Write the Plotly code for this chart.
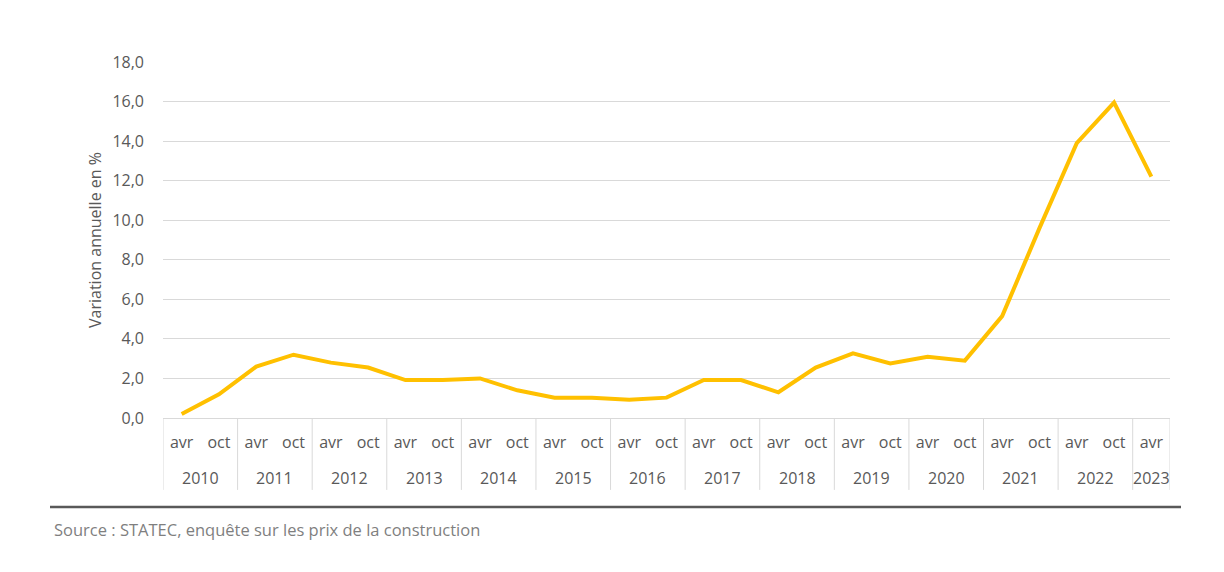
import plotly.graph_objects as go

years = ["2010", "2010", "2011", "2011", "2012", "2012", "2013", "2013", "2014", "2014",
         "2015", "2015", "2016", "2016", "2017", "2017", "2018", "2018", "2019", "2019",
         "2020", "2020", "2021", "2021", "2022", "2022", "2023"]
months = ["avr", "oct"] * 13 + ["avr"]
values = [0.2, 1.2, 2.6, 3.2, 2.8, 2.55, 1.92, 1.92, 2.0, 1.4,
          1.03, 1.03, 0.92, 1.03, 1.92, 1.92, 1.3, 2.55, 3.27, 2.76,
          3.1, 2.9, 5.15, 9.6, 13.9, 15.95, 12.2]
y_ticks = [0, 2, 4, 6, 8, 10, 12, 14, 16, 18]
y_ticktext = [f"{v:.1f}".replace(".", ",") for v in y_ticks]

TXT = "#595959"
GRID = "#D9D9D9"
FONT = "Open Sans"
FS = 16

idx = list(range(len(values)))

# group categories by year
year_order = []
for y in years:
    if y not in year_order:
        year_order.append(y)
year_idx = {y: [i for i, yy in enumerate(years) if yy == y] for y in year_order}

fig = go.Figure()
fig.add_trace(go.Scatter(
    x=idx, y=values, mode="lines",
    line=dict(color="#FFC000", width=4),
    hoverinfo="skip", showlegend=False,
))

Y_DIV_BOTTOM = -0.202
Y_YEAR = -0.1685

shapes = []
# year dividers (edges of each year group)
edges = [year_idx[y][0] - 0.5 for y in year_order] + [year_idx[year_order[-1]][-1] + 0.5]
for e in edges:
    shapes.append(dict(type="line", xref="x", yref="paper", x0=e, x1=e,
                       y0=0, y1=Y_DIV_BOTTOM, line=dict(color=GRID, width=1)))
# bottom rule
shapes.append(dict(type="line", xref="paper", yref="paper",
                   x0=(50 - 163) / 1007, x1=(1181 - 163) / 1007,
                   y0=-0.25, y1=-0.25,
                   line=dict(color="#595959", width=2.5)))

annotations = []
for y in year_order:
    pos = sum(year_idx[y]) / len(year_idx[y])
    annotations.append(dict(text=y, xref="x", yref="paper", x=pos, y=Y_YEAR,
                            xanchor="center", yanchor="middle", showarrow=False,
                            font=dict(family=FONT, size=FS, color=TXT)))
annotations.append(dict(text="Source : STATEC, enquête sur les prix de la construction",
                        xref="paper", yref="paper", x=(52 - 163) / 1007, y=-0.3146,
                        xanchor="left", yanchor="middle", showarrow=False,
                        font=dict(family=FONT, size=16.5, color="#7F7F7F")))

fig.update_layout(
    width=1224, height=572,
    margin=dict(l=155, r=62, t=54, b=162),
    paper_bgcolor="white", plot_bgcolor="white",
    font=dict(family=FONT, size=FS, color=TXT),
    xaxis=dict(
        range=[-0.5, len(values) - 0.5],
        tickvals=idx, ticktext=months,
        showgrid=False, zeroline=False,
        showline=True, linecolor=GRID, linewidth=1,
        ticks="", ticklabelstandoff=10,
        tickfont=dict(family=FONT, size=FS, color=TXT),
    ),
    yaxis=dict(
        range=[0, 18], tickvals=y_ticks, ticktext=y_ticktext,
        showgrid=True, gridcolor=GRID, gridwidth=1,
        zeroline=False, showline=False, ticks="",
        ticklabelstandoff=18,
        tickfont=dict(family=FONT, size=FS, color=TXT),
        title=dict(text="Variation annuelle en %", font=dict(family=FONT, size=FS, color=TXT), standoff=6),
    ),
    shapes=shapes,
    annotations=annotations,
)

fig.write_html("out.html")
